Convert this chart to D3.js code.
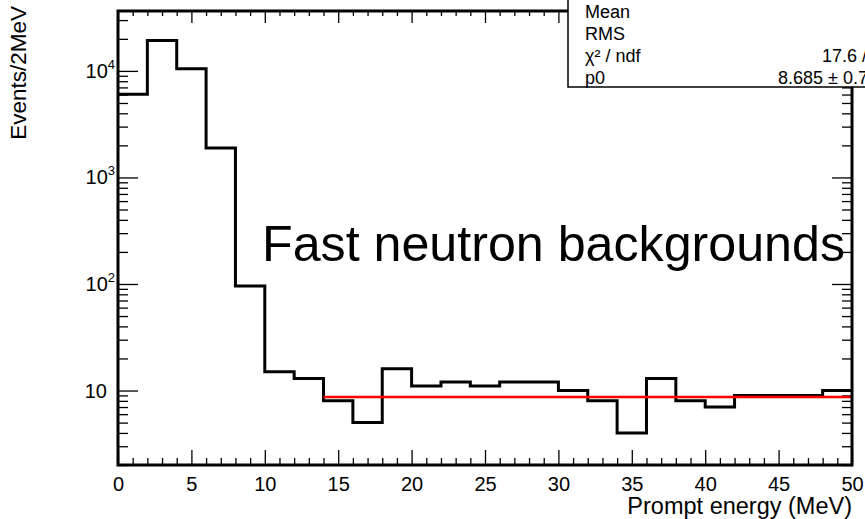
<!DOCTYPE html>
<html>
<head>
<meta charset="utf-8">
<script src="https://cdn.jsdelivr.net/npm/d3@7"></script>
<style>
  body { margin: 0; background: #fff; }
  svg { display: block; }
  text { font-family: "Liberation Sans", Arial, Helvetica, sans-serif; }
</style>
</head>
<body>
<svg width="865" height="519"></svg>
<script>
// histogram: 2 MeV bins from 0 to 50 MeV
const binEdges = d3.range(0, 52, 2);
const counts = [6050, 19300, 10450, 1890, 96, 15, 13, 8, 5, 16, 11, 12, 11, 12, 12, 10, 8, 4, 13, 8, 7, 9, 9, 9, 10];

// flat fit (pol0) over 14-50 MeV
const fitRange = [14, 50];
const fitP0 = 8.685;

const xMajor = [0, 5, 10, 15, 20, 25, 30, 35, 40, 45, 50];
const yMajor = [10, 100, 1000, 10000];
const yLabels = [["10", ""], ["10", "2"], ["10", "3"], ["10", "4"]];

const statNames = ["Mean", "RMS", "\u03c7\u00b2 / ndf", "p0"];
const statValues = ["", "", "17.6 / 19", "8.685 \u00b1 0.725"];

const svg = d3.select("svg");
const margin = {left: 118, right: 852, top: 11, bottom: 465};

const x = d3.scaleLinear().domain([0, 50]).range([margin.left, margin.right]);
const y = d3.scaleLog().domain([2, 36500]).range([margin.bottom, margin.top]);

const xMinor = d3.range(0, 51, 1).filter(v => v % 5 !== 0);
const yMinor = [];
[1, 10, 100, 1000, 10000].forEach(d => {
  for (let k = 2; k <= 9; k++) {
    const v = d * k;
    if (v >= 2 && v <= 36500) yMinor.push(v);
  }
});

const axisStyle = g => {
  g.select(".domain").remove();
  g.selectAll(".tick line").attr("stroke", "#000").attr("stroke-width", 1.3);
};

// bottom axis
svg.append("g").attr("transform", `translate(0,${margin.bottom})`)
  .call(d3.axisBottom(x).tickValues(xMajor).tickSize(-15).tickPadding(12).tickFormat(d3.format("d")))
  .call(axisStyle)
  .call(g => g.selectAll("text").attr("font-size", 20).attr("fill", "#000")
    .attr("font-family", "Liberation Sans, Arial, sans-serif"));
svg.append("g").attr("transform", `translate(0,${margin.bottom})`)
  .call(d3.axisBottom(x).tickValues(xMinor).tickSize(-7).tickFormat(""))
  .call(axisStyle);

// top axis
svg.append("g").attr("transform", `translate(0,${margin.top})`)
  .call(d3.axisTop(x).tickValues(xMajor).tickSize(-12).tickFormat(""))
  .call(axisStyle);
svg.append("g").attr("transform", `translate(0,${margin.top})`)
  .call(d3.axisTop(x).tickValues(xMinor).tickSize(-5).tickFormat(""))
  .call(axisStyle);

// left axis
svg.append("g").attr("transform", `translate(${margin.left},0)`)
  .call(d3.axisLeft(y).tickValues(yMajor).tickSize(-20).tickFormat(""))
  .call(axisStyle);
svg.append("g").attr("transform", `translate(${margin.left},0)`)
  .call(d3.axisLeft(y).tickValues(yMinor).tickSize(-10).tickFormat(""))
  .call(axisStyle);

// right axis
svg.append("g").attr("transform", `translate(${margin.right},0)`)
  .call(d3.axisRight(y).tickValues(yMajor).tickSize(-20).tickFormat(""))
  .call(axisStyle);
svg.append("g").attr("transform", `translate(${margin.right},0)`)
  .call(d3.axisRight(y).tickValues(yMinor).tickSize(-10).tickFormat(""))
  .call(axisStyle);

// y tick labels with superscripts
const yl = svg.append("g").selectAll("text")
  .data(yMajor)
  .join("text")
    .attr("y", d => y(d) + 7)
    .attr("text-anchor", "end")
    .attr("font-size", 20)
    .attr("fill", "#000");
yl.each(function(d, i) {
  const t = d3.select(this);
  const lab = yLabels[i];
  if (lab[1] === "") {
    t.attr("x", 107).text(lab[0]);
  } else {
    t.attr("x", 115);
    t.append("tspan").text(lab[0]);
    t.append("tspan").attr("font-size", 13).attr("dy", -9).text(lab[1]);
  }
});

// histogram outline
const histPts = counts.map((c, i) => [binEdges[i], c]);
histPts.push([binEdges[binEdges.length - 1], counts[counts.length - 1]]);
const histLine = d3.line()
  .x(d => x(d[0]))
  .y(d => y(d[1]))
  .curve(d3.curveStepAfter);
svg.append("path")
  .attr("d", histLine(histPts))
  .attr("fill", "none")
  .attr("stroke", "#000")
  .attr("stroke-width", 3);

// fit line
svg.append("line")
  .attr("x1", x(fitRange[0])).attr("x2", x(fitRange[1]))
  .attr("y1", y(fitP0)).attr("y2", y(fitP0))
  .attr("stroke", "#ff0000")
  .attr("stroke-width", 2.5);

// frame
svg.append("rect")
  .attr("x", margin.left).attr("y", margin.top)
  .attr("width", margin.right - margin.left)
  .attr("height", margin.bottom - margin.top)
  .attr("fill", "none")
  .attr("stroke", "#000")
  .attr("stroke-width", 3);

// stats box (cut by the canvas edge)
const box = svg.append("g");
box.append("rect")
  .attr("x", 568).attr("y", -10)
  .attr("width", 330).attr("height", 97)
  .attr("fill", "#fff")
  .attr("stroke", "#000")
  .attr("stroke-width", 1.5);
box.selectAll("text.name")
  .data(statNames)
  .join("text")
    .attr("class", "name")
    .attr("x", 585)
    .attr("y", (d, i) => 18 + i * 22)
    .attr("font-size", 18)
    .text(d => d);
box.selectAll("text.val")
  .data(statValues)
  .join("text")
    .attr("class", "val")
    .attr("x", (d, i) => i === 2 ? 822 : 778)
    .attr("y", (d, i) => 18 + i * 22)
    .attr("font-size", 18)
    .text(d => d);

// annotation
svg.append("text")
  .attr("x", 262)
  .attr("y", 261)
  .attr("font-family", "Lato, 'Open Sans', sans-serif")
  .attr("font-size", 50)
  .attr("textLength", 583)
  .attr("lengthAdjust", "spacingAndGlyphs")
  .attr("fill", "#000")
  .text("Fast neutron backgrounds");

// axis titles
svg.append("text")
  .attr("transform", "translate(26,6) rotate(-90)")
  .attr("text-anchor", "end")
  .attr("font-size", 22.5)
  .text("Events/2MeV");

svg.append("text")
  .attr("x", 852)
  .attr("y", 514)
  .attr("text-anchor", "end")
  .attr("font-size", 23.5)
  .text("Prompt energy (MeV)");
</script>
</body>
</html>
